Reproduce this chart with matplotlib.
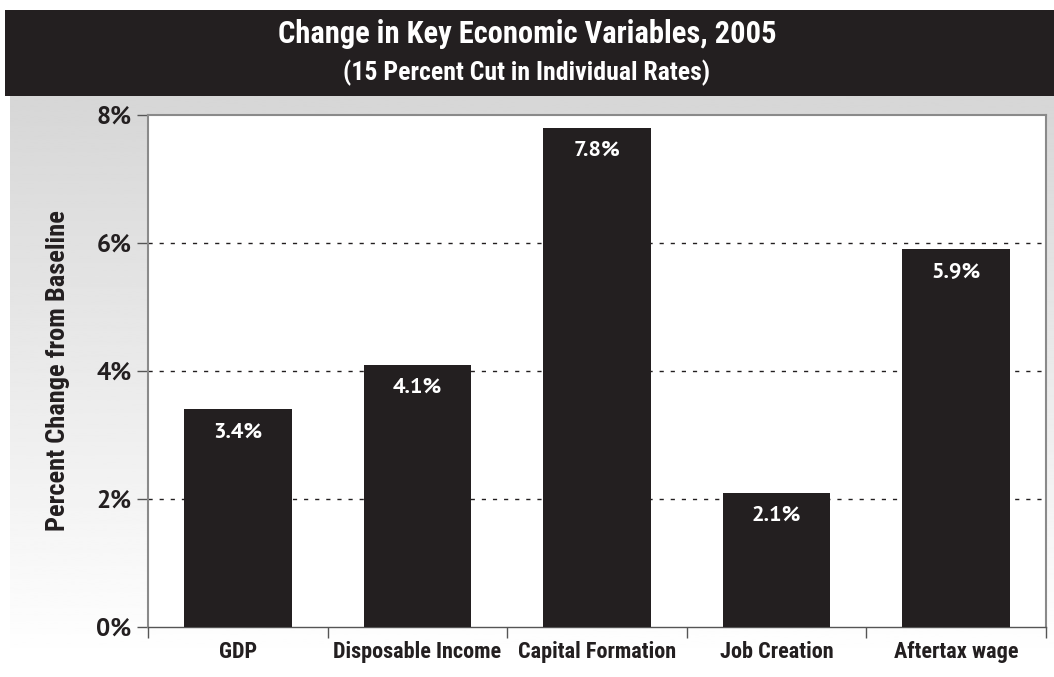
import numpy as np
import matplotlib.pyplot as plt
from matplotlib.patches import Rectangle

categories = ["GDP", "Disposable Income", "Capital Formation", "Job Creation", "Aftertax wage"]
values = [3.4, 4.1, 7.8, 2.1, 5.9]
yticks = [0, 2, 4, 6, 8]

title = "Change in Key Economic Variables, 2005"
subtitle = "(15 Percent Cut in Individual Rates)"
ylabel = "Percent Change from Baseline"

W, H = 1054, 677
bar_color = "#231f20"
narrow = ["Roboto Condensed", "DejaVu Sans"]
semi = ["PT Sans", "Open Sans", "DejaVu Sans"]

fig = plt.figure(figsize=(W / 100, H / 100), dpi=100)
fig.patch.set_facecolor("white")

# gray-to-white gradient panel behind the plot
bg = fig.add_axes([10 / W, (H - 662) / H, (W - 10) / W, (662 - 96) / H])
grad = np.linspace(0.84, 1.0, 256).reshape(-1, 1)
bg.imshow(grad, aspect="auto", cmap="gray", vmin=0, vmax=1, extent=[0, 1, 1, 0])
bg.set_axis_off()

# black title band
fig.patches.append(Rectangle((5 / W, (H - 96) / H), (W - 5) / W, 86 / H,
                             transform=fig.transFigure, facecolor=bar_color,
                             edgecolor="none", zorder=1))
fig.text(0.5, (H - 34) / H, title, color="white", ha="center", va="center",
         fontsize=22, fontweight="bold", family=narrow)
fig.text(0.5, (H - 73) / H, subtitle, color="white", ha="center", va="center",
         fontsize=18.5, fontweight="bold", family=narrow)

# main axes
x0, x1, y0, y1 = 148, 1046, 115, 627
ax = fig.add_axes([x0 / W, (H - y1) / H, (x1 - x0) / W, (y1 - y0) / H])
ax.set_facecolor("white")
xpos = np.arange(len(categories))
ax.bar(xpos, values, width=0.6, color=bar_color, zorder=3)
ax.set_xlim(-0.5, len(categories) - 0.5)
ax.set_ylim(0, 8)

for y in yticks[1:-1]:
    ax.axhline(y, color="#231f20", lw=1, ls=(0, (3, 5)), zorder=1)

for xi, v in zip(xpos, values):
    ax.text(xi, v - 0.2, f"{v:.1f}%", color="white", ha="center", va="top",
            fontsize=16, fontweight="bold", family=semi)

ax.set_yticks(yticks)
ax.set_yticklabels([f"{t}%" for t in yticks], fontsize=18, fontweight="bold",
                   family=semi, color="#231f20")
ax.tick_params(axis="y", length=8, width=1, color="#555555", pad=4)

ax.set_xticks(np.arange(len(categories) + 1) - 0.5, minor=False)
ax.set_xticklabels([])
ax.tick_params(axis="x", length=8, width=1, color="#555555")
ax.set_xticks(xpos, minor=True)
ax.set_xticklabels(categories, minor=True, fontsize=16, fontweight="bold",
                   family=narrow, color="#231f20")
ax.tick_params(axis="x", which="minor", length=0, pad=10)

for side in ["left", "top", "right"]:
    ax.spines[side].set_color("#8a8a8a")
    ax.spines[side].set_linewidth(1.5)
ax.spines["bottom"].set_color("#555555")
ax.spines["bottom"].set_linewidth(1)

ax.set_ylabel(ylabel, fontsize=19, fontweight="bold", family=narrow,
              color="#231f20")
ax.yaxis.set_label_coords((70 - x0) / (x1 - x0), 0.5)

fig.savefig("out.png", dpi=100)
